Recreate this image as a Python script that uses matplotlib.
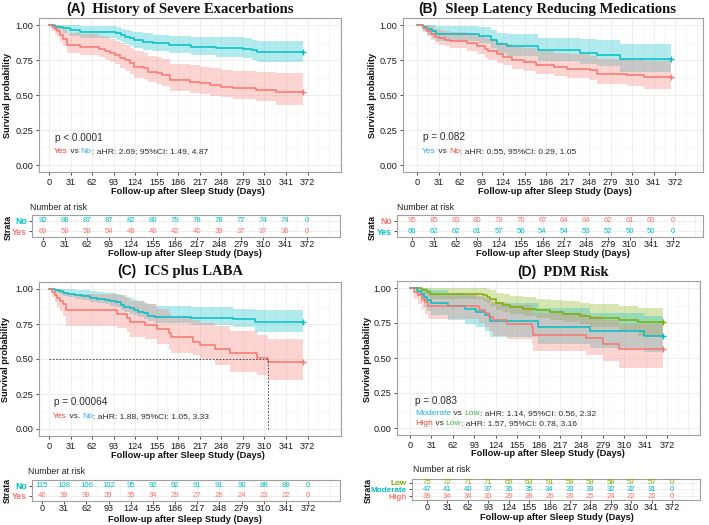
import matplotlib
matplotlib.use("Agg")
import matplotlib.pyplot as plt
from matplotlib.ticker import MultipleLocator

plt.rcParams["font.family"] = ["Liberation Sans", "DejaVu Sans"]

W, H = 709, 525
RED = "#F8766D"
CYAN = "#00BFC4"
GREEN = "#7CAE00"
T_RED = "#E8453C"
T_BLUE = "#29ABE2"
T_GREEN = "#3CB44B"
DARK = "#2B2B2B"

DAYS = [0, 31, 62, 93, 124, 155, 186, 217, 248, 279, 310, 341, 372]
END_DAY = 366

# ---- (A) History of severe exacerbations
A_NO_T = [0, 8, 20, 30, 45, 97, 103, 110, 116, 122, 135, 150, 172, 205, 240, 279, 292, 300]
A_NO_S = [1.0, .988, .976, .964, .952, .940, .929, .917, .905, .893, .881, .869, .857, .845, .838, .830, .818, .805]
A_NO_HI = [1.0, 1.0, 1.0, 1.0, .995, .985, .975, .966, .957, .948, .940, .932, .925, .917, .912, .905, .895, .885]
A_NO_LO = [1.0, .965, .945, .925, .910, .895, .880, .866, .852, .838, .825, .812, .798, .785, .775, .765, .750, .733]
A_YES_T = [0, 4, 8, 12, 16, 20, 26, 45, 72, 80, 88, 95, 102, 110, 116, 122, 136, 142, 155, 162, 174, 203, 217, 231, 248, 265, 298, 327]
A_YES_S = [1.0, .986, .971, .957, .928, .900, .857, .843, .829, .814, .800, .786, .767, .750, .726, .702, .690, .667, .655, .643, .607, .595, .583, .571, .560, .548, .536, .524]
A_YES_HI = [1.0, 1.0, 1.0, 1.0, .99, .975, .945, .935, .925, .912, .900, .888, .870, .855, .835, .815, .800, .780, .770, .755, .725, .712, .700, .690, .680, .670, .662, .655]
A_YES_LO = [1.0, .955, .935, .915, .880, .850, .800, .785, .770, .752, .735, .718, .695, .675, .650, .625, .612, .590, .578, .565, .530, .515, .505, .495, .485, .470, .455, .430]
A_RISK_NO = [92, 88, 87, 87, 82, 80, 79, 78, 78, 77, 74, 74, 0]
A_RISK_YES = [69, 59, 58, 54, 48, 46, 42, 40, 39, 37, 37, 36, 0]

# ---- (B) Sleep latency reducing medications
B_YES_T = [0, 8, 15, 22, 28, 90, 106, 115, 130, 175, 235, 260, 293]
B_YES_S = [1.0, .985, .970, .955, .939, .924, .893, .864, .848, .818, .803, .788, .757]
B_YES_HI = [1.0, 1.0, 1.0, 1.0, .99, .985, .965, .945, .935, .910, .900, .890, .865]
B_YES_LO = [1.0, .955, .930, .905, .885, .870, .835, .800, .780, .745, .725, .710, .665]
B_NO_T = [0, 8, 14, 20, 26, 31, 40, 48, 72, 86, 98, 103, 115, 124, 137, 154, 171, 197, 216, 250, 260, 303, 327]
B_NO_S = [1.0, .979, .958, .937, .916, .905, .895, .884, .868, .847, .826, .811, .790, .774, .750, .737, .716, .700, .689, .677, .653, .642, .630]
B_NO_HI = [1.0, 1.0, 1.0, .99, .975, .965, .958, .950, .940, .925, .910, .898, .880, .865, .845, .835, .815, .800, .790, .780, .760, .750, .740]
B_NO_LO = [1.0, .950, .920, .895, .872, .858, .848, .835, .815, .790, .765, .750, .728, .712, .688, .673, .652, .635, .622, .608, .580, .565, .545]
B_RISK_NO = [95, 85, 83, 80, 73, 70, 67, 64, 64, 62, 61, 60, 0]
B_RISK_YES = [66, 62, 62, 61, 57, 56, 54, 54, 53, 52, 50, 50, 0]

# ---- (C) ICS plus LABA
C_NO_T = [0, 8, 15, 20, 27, 37, 47, 59, 69, 80, 88, 97, 103, 108, 116, 122, 128, 136, 143, 152, 205, 265, 296]
C_NO_S = [1.0, .991, .983, .974, .965, .957, .948, .939, .930, .922, .913, .904, .887, .870, .861, .852, .835, .826, .809, .800, .791, .783, .765]
C_NO_HI = [1.0, 1.0, 1.0, 1.0, .998, .995, .99, .985, .98, .975, .97, .965, .955, .945, .935, .925, .912, .902, .89, .88, .87, .86, .848]
C_NO_LO = [1.0, .975, .962, .950, .940, .930, .920, .910, .900, .890, .880, .870, .852, .835, .825, .815, .797, .787, .768, .755, .742, .728, .695]
C_YES_T = [0, 4, 8, 12, 16, 20, 25, 98, 112, 116, 138, 155, 172, 176, 207, 217, 239, 260, 300, 315]
C_YES_S = [1.0, .978, .957, .935, .913, .891, .848, .822, .796, .766, .740, .714, .686, .655, .625, .600, .570, .540, .508, .478]
C_YES_HI = [1.0, 1.0, 1.0, 1.0, .995, .985, .965, .955, .935, .915, .890, .860, .830, .800, .780, .760, .735, .700, .670, .645]
C_YES_LO = [1.0, .94, .905, .87, .84, .81, .735, .72, .69, .66, .645, .61, .575, .545, .527, .50, .456, .41, .385, .35]
C_MEDIAN_YES = 315
C_RISK_NO = [115, 108, 106, 102, 95, 92, 92, 91, 91, 90, 88, 88, 0]
C_RISK_YES = [46, 39, 39, 39, 35, 34, 29, 27, 26, 24, 23, 22, 0]

# ---- (D) PDM risk
D_LOW_T = [0, 17, 24, 29, 106, 112, 116, 124, 135, 145, 164, 183, 202, 222, 246, 260, 303, 330]
D_LOW_S = [1.0, .987, .973, .960, .947, .933, .920, .893, .880, .867, .853, .840, .827, .813, .800, .787, .773, .760]
D_LOW_HI = [1.0, 1.0, 1.0, 1.0, .998, .99, .985, .965, .955, .945, .935, .925, .915, .905, .895, .885, .870, .860]
D_LOW_LO = [1.0, .96, .94, .92, .905, .89, .875, .845, .83, .815, .80, .785, .77, .755, .74, .725, .695, .66]
D_MOD_T = [0, 10, 16, 20, 24, 30, 55, 80, 96, 108, 116, 185, 260, 339]
D_MOD_S = [1.0, .979, .957, .936, .915, .894, .872, .851, .830, .809, .766, .723, .690, .655]
D_MOD_HI = [1.0, 1.0, 1.0, 1.0, .995, .985, .965, .950, .935, .920, .890, .855, .825, .800]
D_MOD_LO = [1.0, .94, .90, .865, .835, .805, .775, .745, .72, .69, .65, .60, .57, .54]
D_HIGH_T = [0, 6, 12, 18, 22, 26, 100, 108, 114, 120, 140, 176, 178, 255, 280, 303]
D_HIGH_S = [1.0, .974, .949, .923, .897, .872, .846, .821, .795, .769, .744, .718, .667, .641, .603, .564]
D_HIGH_HI = [1.0, 1.0, 1.0, .99, .975, .96, .945, .93, .915, .90, .88, .86, .825, .80, .775, .745]
D_HIGH_LO = [1.0, .925, .885, .85, .815, .78, .75, .72, .69, .66, .635, .605, .55, .52, .48, .43]
D_RISK_LOW = [75, 72, 71, 71, 65, 63, 61, 59, 59, 58, 57, 57, 0]
D_RISK_MOD = [47, 41, 40, 37, 36, 35, 34, 33, 33, 32, 32, 31, 0]
D_RISK_HIGH = [39, 34, 34, 33, 29, 28, 26, 26, 25, 24, 22, 22, 0]

TICK_SIZE = 6.6
LAB_SIZE = 6.7

fig = plt.figure(figsize=(W / 100, H / 100), dpi=100)
fig.patch.set_facecolor("white")


def px_axes(l, t, r, b, x0, x372, pad=1.5):
    ax = fig.add_axes([l / W, 1 - b / H, (r - l) / W, (b - t) / H])
    k = (x372 - x0) / 372.0
    ax.set_xlim((l - x0) / k, (r - x0) / k)
    for sp in ax.spines.values():
        sp.set_color("#A0A0A0")
        sp.set_linewidth(0.8)
    ax.set_xticks(DAYS)
    ax.set_xticklabels([str(d) for d in DAYS])
    ax.xaxis.set_minor_locator(MultipleLocator(15.5))
    ax.tick_params(which="major", labelsize=TICK_SIZE, length=2.5, width=0.6,
                   color="#333333", labelcolor="#1A1A1A", pad=pad)
    ax.tick_params(which="minor", length=0)
    ax.grid(which="major", color="#EBEBEB", lw=0.6)
    ax.grid(which="minor", color="#F3F3F3", lw=0.4)
    ax.axvline(403, color="#EBEBEB", lw=0.6, zorder=0)
    ax.set_axisbelow(True)
    return ax


def fpx(x, y, s, **kw):
    return fig.text(x / W, 1 - y / H, s, **kw)


def km(ax, t, s, lo, hi, color):
    tt = list(t) + [END_DAY]
    ax.fill_between(tt, list(lo) + [lo[-1]], list(hi) + [hi[-1]], step="post",
                    color=color, alpha=0.3, lw=0)


def km_line(ax, t, s, color):
    tt = list(t) + [END_DAY]
    ss = list(s) + [s[-1]]
    ax.step(tt, ss, where="post", color=color, lw=1.1)
    ax.plot([END_DAY], [s[-1]], marker="+", color=color, ms=5, mew=1)


def color_text(ax, x, y, parts, size):
    t = ax.text(x, y, parts[0][0], color=parts[0][1], fontsize=size, va="center")
    for txt, c in parts[1:]:
        t = ax.annotate(txt, xycoords=t, xy=(1, 0), va="bottom", color=c, fontsize=size)


def main_panel(box, x0, x372, groups, notes, xlab, ylab):
    l, t, r, b = box
    ax = px_axes(l, t, r, b, x0, x372)
    ax.set_ylim(-0.05, 1.05)
    ax.set_yticks([0, 0.25, 0.5, 0.75, 1.0])
    ax.set_yticklabels(["0.00", "0.25", "0.50", "0.75", "1.00"])
    ax.yaxis.set_minor_locator(MultipleLocator(0.125))
    for g in groups:
        km(ax, *g)
    for g in groups:
        km_line(ax, g[0], g[1], g[4])
    for (x, y, parts, size) in notes:
        color_text(ax, x, y, parts, size)
    fpx(xlab[0], xlab[1], "Follow-up after Sleep Study (Days)", fontsize=LAB_SIZE,
        fontweight="bold", ha="center", va="center", color="#111111")
    fpx(ylab[0], ylab[1], "Survival probability", fontsize=6.6, fontweight="bold",
        rotation=90, ha="center", va="center", color="#111111")
    return ax


def risk_panel(box, x0, x372, rows, labels, colors, head, xlab, strata, lab_size):
    l, t, r, b = box
    ax = px_axes(l, t, r, b, x0, x372, pad=0.3)
    ax.tick_params(axis="x", length=2)
    n = len(rows)
    ax.set_ylim(0.45, n + 0.55)
    ys = [n - i for i in range(n)]
    for y, vals, c in zip(ys, rows, colors):
        for d, v in zip(DAYS, vals):
            ax.text(d, y, str(v), color=c, fontsize=5.6, ha="center", va="center")
    ax.set_yticks(ys)
    ax.set_yticklabels(labels)
    for lab, c in zip(ax.get_yticklabels(), colors):
        lab.set_color(c)
        lab.set_fontweight("bold")
        lab.set_fontsize(lab_size)
    ax.tick_params(axis="y", pad=1, length=2.5)
    fpx(head[0], head[1], "Number at risk", fontsize=6.3, ha="left", va="center",
        color="#222222")
    fpx(xlab[0], xlab[1], "Follow-up after Sleep Study (Days)", fontsize=LAB_SIZE,
        fontweight="bold", ha="center", va="center", color="#111111")
    fpx(strata[0], strata[1], "Strata", fontsize=6.3, fontweight="bold",
        rotation=90, ha="center", va="center", color="#111111")
    return ax


def title(cx, cy, tag, rest):
    r = fig.canvas.get_renderer()
    t1 = fpx(0, cy, tag, fontsize=10, fontweight="bold", va="baseline",
             family="Liberation Sans", color="#111111")
    t2 = fpx(0, cy, "  " + rest, fontsize=10.5, fontweight="bold", va="baseline",
             family="Liberation Serif", color="#111111")
    w1 = t1.get_window_extent(r).width
    w2 = t2.get_window_extent(r).width
    x = cx - (w1 + w2) / 2
    t1.set_x(x / W)
    t2.set_x((x + w1) / W)


# (A)
main_panel((39, 18, 341, 172), 49, 307.5,
           [(A_NO_T, A_NO_S, A_NO_LO, A_NO_HI, CYAN),
            (A_YES_T, A_YES_S, A_YES_LO, A_YES_HI, RED)],
           [(8, 0.195, [("p < 0.0001", DARK)], 7.2),
            (7, 0.095, [("Yes", T_RED), (" vs ", DARK), ("No", T_BLUE),
                        (": aHR: 2.69; 95%CI: 1.49, 4.87", DARK)], 6.1)],
           (188, 191.5), (8, 95))
risk_panel((32, 215, 340, 237), 43, 307, [A_RISK_NO, A_RISK_YES], ["No", "Yes"],
           [CYAN, RED], (30, 207), (185, 254), (8, 227), 6.2)

# (B)
main_panel((403, 18, 703, 172), 417, 675,
           [(B_YES_T, B_YES_S, B_YES_LO, B_YES_HI, CYAN),
            (B_NO_T, B_NO_S, B_NO_LO, B_NO_HI, RED)],
           [(8, 0.2, [("p = 0.082", DARK)], 7.2),
            (7.5, 0.095, [("Yes", T_BLUE), (" vs ", DARK), ("No", T_RED),
                          (": aHR: 0.55, 95%CI: 0.29, 1.05", DARK)], 6.1)],
           (555, 191.5), (373, 95))
risk_panel((397, 215, 703, 237), 412, 673, [B_RISK_NO, B_RISK_YES], ["No", "Yes"],
           [RED, CYAN], (397, 207), (553, 254), (372, 227), 6.2)

# (C)
axc = main_panel((39, 282, 341, 436), 49, 307.5,
                 [(C_NO_T, C_NO_S, C_NO_LO, C_NO_HI, CYAN),
                  (C_YES_T, C_YES_S, C_YES_LO, C_YES_HI, RED)],
                 [(6.5, 0.19, [("p = 0.00064", DARK)], 7.2),
                  (6, 0.092, [("Yes", T_RED), (" vs. ", DARK), ("No", T_BLUE),
                              (": aHR: 1.88, 95%CI: 1.05, 3.33", DARK)], 6.1)],
                 (188, 455), (6, 359))
axc.plot([0, C_MEDIAN_YES], [0.5, 0.5], ls=(0, (2, 2)), color="#333333", lw=0.6)
axc.plot([C_MEDIAN_YES, C_MEDIAN_YES], [0, 0.5], ls=(0, (2, 2)), color="#333333", lw=0.6)
risk_panel((32, 480, 340, 501), 42, 308, [C_RISK_NO, C_RISK_YES], ["No", "Yes"],
           [CYAN, RED], (28, 472), (185, 519.5), (7, 490), 6.2)

# (D)
main_panel((397, 281, 700, 435), 410, 667,
           [(D_LOW_T, D_LOW_S, D_LOW_LO, D_LOW_HI, GREEN),
            (D_MOD_T, D_MOD_S, D_MOD_LO, D_MOD_HI, CYAN),
            (D_HIGH_T, D_HIGH_S, D_HIGH_LO, D_HIGH_HI, RED)],
           [(7, 0.193, [("p = 0.083", DARK)], 7.2),
            (7, 0.105, [("Moderate", T_BLUE), (" vs ", DARK), ("Low", T_GREEN),
                        (": aHR: 1.14, 95%CI: 0.56, 2.32", DARK)], 6.1),
            (7, 0.035, [("High", T_RED), (" vs ", DARK), ("Low", T_GREEN),
                        (": aHR: 1.57, 95%CI: 0.78, 3.16", DARK)], 6.1)],
           (548, 453), (367, 359))
risk_panel((412, 479, 700, 500), 427, 672, [D_RISK_LOW, D_RISK_MOD, D_RISK_HIGH],
           ["Low", "Moderate", "High"], [GREEN, CYAN, RED], (413, 470), (557, 518),
           (368, 490), 5.9)

title(180, 13, "(A)", "History of Severe Exacerbations")
title(547, 13, "(B)", "Sleep Latency Reducing Medications")
title(180, 275, "(C)", "ICS plus LABA")
title(563, 276, "(D)", "PDM Risk")

fig.savefig("out.png", dpi=100)
